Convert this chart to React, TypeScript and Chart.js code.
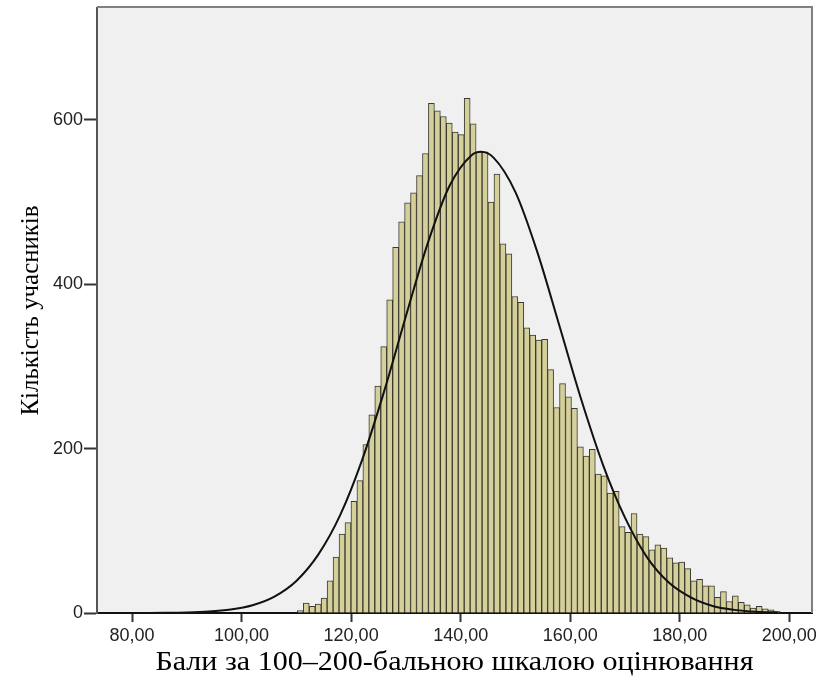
import React, { useEffect, useRef } from 'react';
import { Chart, registerables } from 'chart.js';

Chart.register(...registerables);

// Histogram bins (score scale), bin width
const BIN_START = 110.18;
const BIN_WIDTH = 1.088;
const COUNTS = [
  3, 12, 8, 11, 18, 39, 68, 96, 110, 136, 161,
  205, 241, 276, 324, 381,
  445, 476, 499, 511, 532, 559, 620, 611, 604, 596,
  585, 582, 626, 595, 561, 561, 500, 534, 449, 437,
  385, 378, 347, 338, 332, 333, 296,
  250, 279, 263, 249, 202, 191, 199, 169, 167, 146,
  148, 105, 98, 121, 96, 93, 77, 83, 79, 67,
  61, 62, 54, 39, 41, 33, 33, 19, 26, 14,
  21, 13, 10, 6, 8, 5, 4, 2,
];

// Normal curve
const CURVE_X = [74, 78, 82, 86, 90, 94, 98, 102, 106, 110, 114, 118, 122, 126, 130, 134, 138, 142, 143.7, 146, 150, 154, 158, 162, 166, 170, 174, 178, 182, 186, 190, 194, 198];
const CURVE_Y = [0, 0, 0.1, 0.2, 0.6, 1.7, 4.2, 9.5, 20, 39, 71, 119, 186, 269, 361, 450, 520, 557, 561, 554, 512, 439, 350, 260, 180, 116, 68, 37, 19, 8.6, 3.8, 1.5, 0.6];

const X_MIN = 73.61;
const X_MAX = 204.14;
const Y_MAX = 736;
const X_TICK_STEP = 20;
const Y_TICK_STEP = 200;

const X_TITLE = 'Бали за 100–200-бальною шкалою оцінювання';
const Y_TITLE = 'Кількість учасників';

const isMultiple = (v: number, step: number) => Math.abs(v / step - Math.round(v / step)) < 1e-6;

export default function App() {
  const ref = useRef<HTMLCanvasElement | null>(null);

  useEffect(() => {
    const canvas = ref.current;
    if (!canvas) return;

    const bgPlugin = {
      id: 'plotBg',
      beforeDraw(chart: any) {
        const { ctx, chartArea: a } = chart;
        ctx.save();
        ctx.fillStyle = '#f0f0f0';
        ctx.fillRect(a.left, a.top, a.right - a.left, a.bottom - a.top);
        ctx.restore();
      },
      afterDraw(chart: any) {
        const { ctx, chartArea: a } = chart;
        ctx.save();
        // frame top / right
        ctx.strokeStyle = '#808080';
        ctx.lineWidth = 2;
        ctx.beginPath();
        ctx.moveTo(a.left, a.top - 1);
        ctx.lineTo(a.right, a.top - 1);
        ctx.lineTo(a.right, a.bottom);
        ctx.stroke();

        ctx.fillStyle = '#000';
        ctx.textAlign = 'center';
        ctx.textBaseline = 'alphabetic';
        // x title
        ctx.font = '28px "Liberation Serif"';
        const wx = ctx.measureText(X_TITLE).width;
        ctx.save();
        ctx.translate((a.left + a.right) / 2, 670);
        ctx.scale(598 / wx, 1);
        ctx.fillText(X_TITLE, 0, 0);
        ctx.restore();
        // y title
        ctx.font = '26px "Liberation Serif"';
        const wy = ctx.measureText(Y_TITLE).width;
        ctx.save();
        ctx.translate(38, (a.top + a.bottom) / 2);
        ctx.rotate(-Math.PI / 2);
        ctx.scale(210 / wy, 1);
        ctx.fillText(Y_TITLE, 0, 0);
        ctx.restore();
        ctx.restore();
      },
    };

    const chart = new Chart(canvas, {
      type: 'bar',
      data: {
        datasets: [
          {
            type: 'line',
            data: CURVE_X.map((x, i) => ({ x, y: CURVE_Y[i] })),
            borderColor: '#111',
            borderWidth: 2,
            pointRadius: 0,
            fill: false,
            cubicInterpolationMode: 'monotone',
            order: 0,
          } as any,
          {
            type: 'bar',
            data: COUNTS.map((c, i) => ({ x: BIN_START + BIN_WIDTH * (i + 0.5), y: c })),
            backgroundColor: '#d5d09a',
            borderColor: '#3a3a30',
            borderWidth: 1,
            barPercentage: 1,
            categoryPercentage: 1,
            order: 1,
          } as any,
        ],
      },
      options: {
        responsive: false,
        animation: false,
        events: [],
        layout: { padding: { left: 0, top: 8, right: 7, bottom: 0 } },
        plugins: {
          legend: { display: false },
          tooltip: { enabled: false },
          title: { display: false },
        },
        scales: {
          x: {
            type: 'linear',
            min: X_MIN,
            max: X_MAX,
            offset: false,
            z: 1,
            afterBuildTicks: (s: any) => {
              s.ticks = s.ticks.filter((t: any) => isMultiple(t.value, X_TICK_STEP));
            },
            afterFit: (s: any) => {
              s.height = 66;
              s.paddingLeft = 0;
              s.paddingRight = 0;
            },
            ticks: {
              stepSize: X_TICK_STEP,
              includeBounds: false,
              padding: 3,
              color: '#222',
              maxRotation: 0,
              autoSkip: false,
              font: { family: 'Liberation Sans', size: 18 },
              callback: (v: any) => Number(v).toFixed(2).replace('.', ','),
            },
            grid: { offset: false, drawOnChartArea: false, drawTicks: true, tickLength: 9, tickWidth: 2, tickColor: '#333' },
            border: { display: true, color: '#111', width: 2 },
          },
          y: {
            min: 0,
            max: Y_MAX,
            afterBuildTicks: (s: any) => {
              s.ticks = s.ticks.filter((t: any) => isMultiple(t.value, Y_TICK_STEP));
            },
            afterFit: (s: any) => {
              s.width = 97;
              s.paddingTop = 0;
              s.paddingBottom = 0;
            },
            ticks: {
              stepSize: Y_TICK_STEP,
              includeBounds: false,
              padding: 1,
              color: '#222',
              font: { family: 'Liberation Sans', size: 18 },
            },
            grid: { drawOnChartArea: false, drawTicks: true, tickLength: 13, tickWidth: 2, tickColor: '#333' },
            border: { display: true, color: '#555', width: 2 },
          },
        },
      } as any,
      plugins: [bgPlugin],
    });

    return () => chart.destroy();
  }, []);

  return (
    <div style={{ position: 'absolute', left: 0, top: 0, width: 819, height: 679 }}>
      <canvas ref={ref} width={819} height={679} style={{ display: 'block', width: 819, height: 679 }} />
    </div>
  );
}
